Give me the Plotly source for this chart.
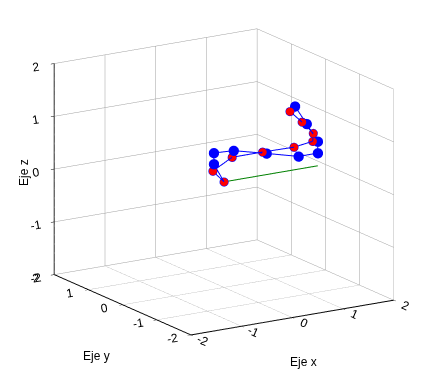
import plotly.graph_objects as go

# red joint chain (x, y, z)
red_x = [0.00, -0.22, 0.16, 0.76, 1.38, 1.75, 1.76, 1.54, 1.30]
red_y = [0.00, 0.00, 0.00, 0.00, 0.00, 0.00, 0.00, 0.00, 0.00]
red_z = [0.00, 0.24, 0.44, 0.44, 0.43, 0.48, 0.63, 0.88, 1.12]

# blue joint chain (x, y, z)
blue_x = [0.00, -0.20, -0.20, 0.19, 0.84, 1.47, 1.85, 1.85, 1.63, 1.40]
blue_y = [0.00, 0.00, 0.00, 0.00, 0.00, 0.00, 0.00, 0.00, 0.00, 0.00]
blue_z = [0.00, 0.37, 0.58, 0.56, 0.40, 0.24, 0.24, 0.46, 0.83, 1.20]

# green segment
green_x = [0.0, 1.85]
green_y = [0.0, 0.0]
green_z = [0.0, 0.0]

ticks = [-2, -1, 0, 1, 2]

fig = go.Figure()
fig.add_trace(go.Scatter3d(x=green_x, y=green_y, z=green_z, mode="lines",
                           line=dict(color="#008000", width=2), showlegend=False))
fig.add_trace(go.Scatter3d(x=blue_x[1:], y=blue_y[1:], z=blue_z[1:], mode="markers",
                           marker=dict(color="#0000ff", size=6, line=dict(width=0)),
                           showlegend=False))
fig.add_trace(go.Scatter3d(x=blue_x, y=blue_y, z=blue_z, mode="lines",
                           line=dict(color="#0000ff", width=2), showlegend=False))
fig.add_trace(go.Scatter3d(x=red_x, y=red_y, z=red_z, mode="lines+markers",
                           line=dict(color="#0000ff", width=2),
                           marker=dict(color="#ff0000", size=5,
                                       line=dict(color="#0000ff", width=1)),
                           showlegend=False))

def ax():
    return dict(range=[-2, 2], tickvals=ticks, ticktext=[str(t) for t in ticks],
                title=dict(text=""),
                showgrid=True, gridcolor="#a0a0a0", gridwidth=1,
                showline=True, linecolor="black", linewidth=2,
                zeroline=False, showbackground=False, showspikes=False,
                tickfont=dict(size=12, color="black"), ticks="outside",
                ticklen=4, tickcolor="black")

fig.update_layout(
    width=432, height=369,
    margin=dict(l=0, r=0, t=0, b=0),
    paper_bgcolor="white",
    font=dict(family="Liberation Sans, Arial, sans-serif", size=12, color="black"),
    scene=dict(
        xaxis=ax(), yaxis=ax(), zaxis=ax(),
        aspectmode="manual", aspectratio=dict(x=1.295, y=1.40, z=1.19),
        camera=dict(eye=dict(x=-0.785, y=-1.26, z=0.365), up=dict(x=0, y=0, z=1),
                    center=dict(x=0, y=0, z=-0.06),
                    projection=dict(type="orthographic")),
        domain=dict(x=[0.0, 1.0], y=[0.0, 1.0]),
        bgcolor="white",
    ),
    annotations=[
        dict(text="Eje x", x=295, y=354, xref="paper", yref="paper", showarrow=False,
             xanchor="center", yanchor="middle"),
        dict(text="Eje y", x=88, y=348, xref="paper", yref="paper", showarrow=False,
             xanchor="center", yanchor="middle"),
        dict(text="Eje z", x=16, y=165, xref="paper", yref="paper", showarrow=False,
             textangle=-90, xanchor="center", yanchor="middle"),
    ],
)
# convert pixel positions of annotations to paper fractions
for a in fig.layout.annotations:
    a.x = a.x / 432.0
    a.y = 1.0 - a.y / 369.0

fig.write_html("out.html")
